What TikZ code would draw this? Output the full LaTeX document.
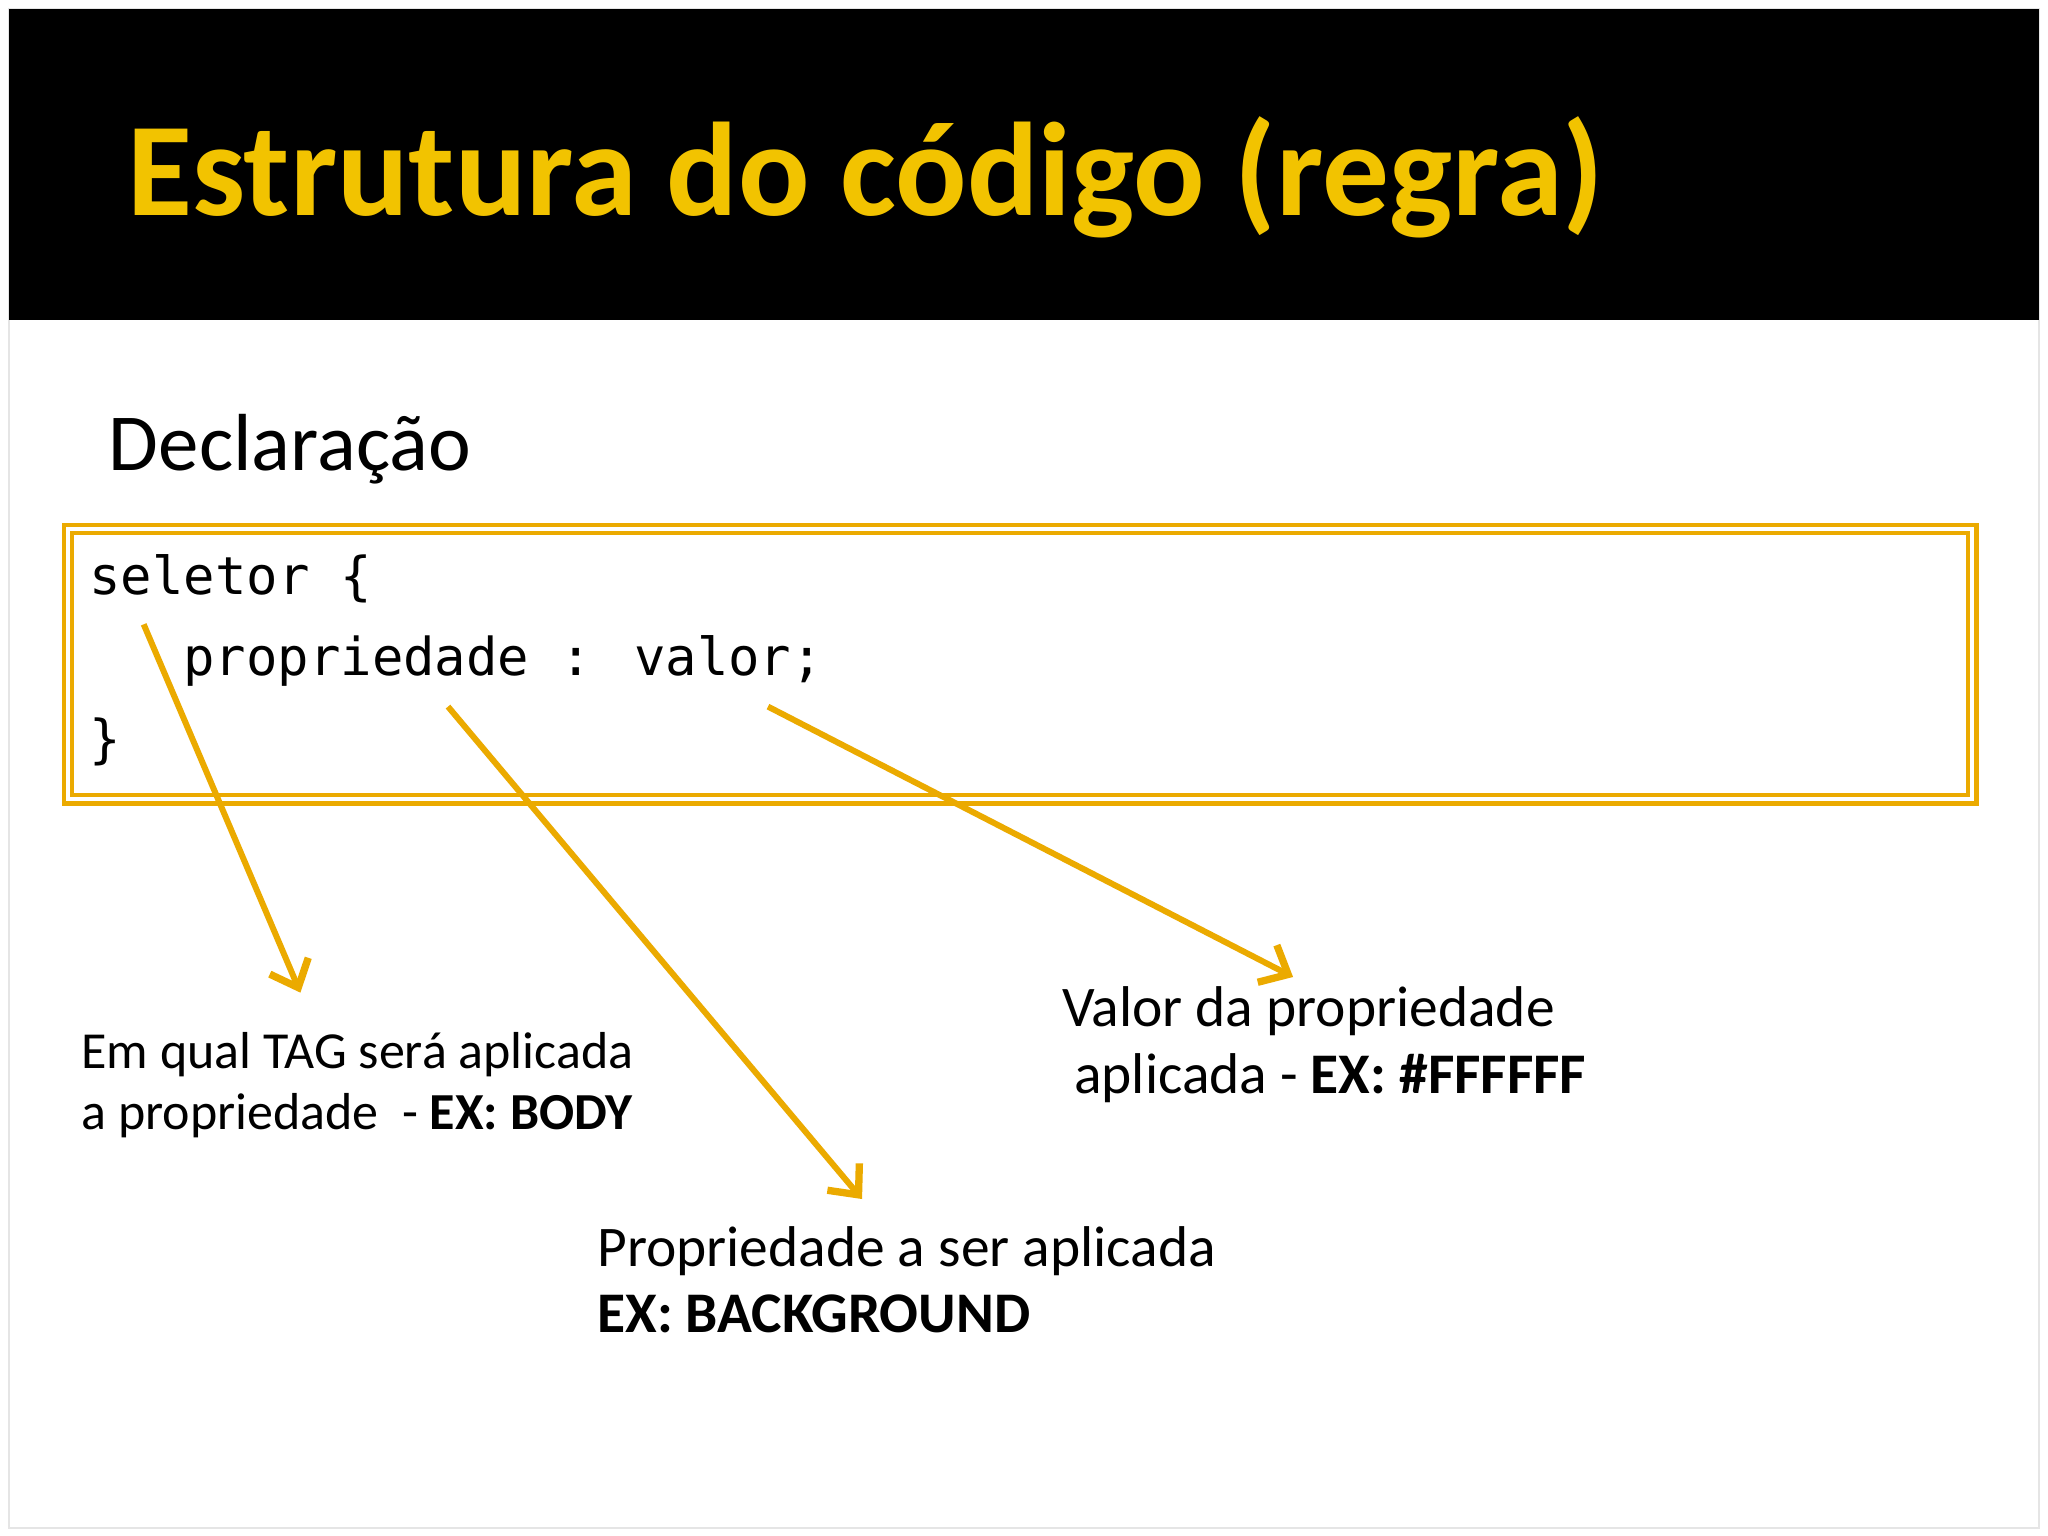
\documentclass[tikz,border=0pt]{standalone}
\usepackage{fontspec}
\setmainfont{Carlito}
\newfontfamily\codefont{DejaVu Sans Mono}
\usetikzlibrary{arrows.meta}
\definecolor{ttl}{HTML}{F2C300}
\definecolor{arr}{HTML}{EBAA00}
\begin{document}
\begin{tikzpicture}[x=0.5pt,y=-0.5pt,
  txt/.style={anchor=base west,inner sep=0pt,font=\fontsize{20}{24}\selectfont},
  code/.style={anchor=base west,inner sep=0pt,font=\codefont\fontsize{20}{24}\selectfont},
  yarrow/.style={draw=arr,line width=2.3pt,-{Straight Barb[length=9pt,width=16pt,line width=2.8pt]}}]
\useasboundingbox (0,0) rectangle (1568,1176);
\fill[white] (0,0) rectangle (1568,1176);
\draw[gray!20,line width=1pt] (7,7) rectangle (1561,1170);
\fill[black] (7,7) rectangle (1561,245);
\node[anchor=base west,inner sep=0pt,text=ttl,font=\bfseries\fontsize{51}{60}\selectfont] (title) at (97,165) {Estrutura do código (regra)};
\node[anchor=base west,inner sep=0pt,font=\fontsize{31}{36}\selectfont] (decl) at (83,360) {Declaração};
\draw[arr,line width=1.7pt,double=white,double distance=1.5pt] (52,405) rectangle (1510,612);
\node[code] (c1) at (68,455) {seletor \{};
\node[code] (c2) at (140,517) {propriedade : valor;};
\node[code] (c3) at (68,580) {\}};
\coordinate (s1) at (110,478); \coordinate (e1) at (230,760);
\coordinate (s2) at (343,541); \coordinate (e2) at (660,918);
\coordinate (s3) at (588,541); \coordinate (e3) at (990,748);
\draw[yarrow] (s1) -- (e1);
\draw[yarrow] (s2) -- (e2);
\draw[yarrow] (s3) -- (e3);
\node[txt,font=\fontsize{19.9}{23}\selectfont] (t1) at (62,818) {Em qual TAG será aplicada};
\node[txt,font=\fontsize{19.9}{23}\selectfont] (t2) at (62,865) {a propriedade~ - \textbf{EX: BODY}};
\node[txt,font=\fontsize{22}{25}\selectfont] (v1) at (813,786) {Valor da propriedade};
\node[txt,font=\fontsize{22}{25}\selectfont] (v2) at (822,837) {aplicada - \textbf{EX: \#FFFFFF}};
\node[txt,font=\fontsize{22}{25}\selectfont] (p1) at (457,970) {Propriedade a ser aplicada};
\node[txt,font=\fontsize{22}{25}\selectfont] (p2) at (457,1020) {\textbf{EX: BACKGROUND}};
\end{tikzpicture}
\end{document}
